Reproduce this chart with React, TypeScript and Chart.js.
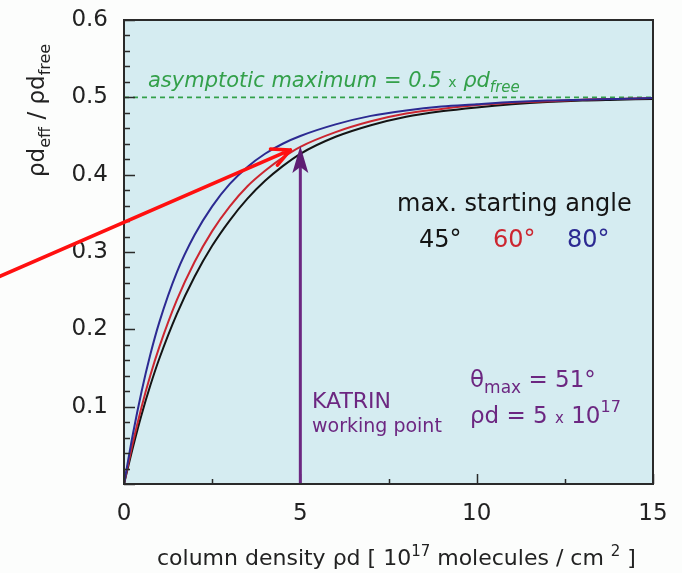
import React, { useEffect, useRef } from "react";
import { Chart, registerables } from "chart.js";

Chart.register(...registerables);

const FONT = "'DejaVu Sans', 'Liberation Sans', Arial, sans-serif";

// column density [10^17 molecules / cm^2]
const columnDensity = [0, 0.25, 0.5, 0.75, 1, 1.5, 2, 2.5, 3, 3.5, 4, 4.5, 5, 6, 7, 8, 9, 10, 11, 12, 13, 14, 15];
// rho d_eff / rho d_free for max. starting angle 45°, 60°, 80°
const ratio45 = [0, 0.047, 0.09, 0.128, 0.162, 0.22, 0.268, 0.308, 0.341, 0.369, 0.392, 0.411, 0.427, 0.449, 0.464, 0.475, 0.482, 0.487, 0.491, 0.494, 0.496, 0.497, 0.498];
const ratio60 = [0, 0.053, 0.1, 0.141, 0.177, 0.238, 0.287, 0.327, 0.359, 0.385, 0.405, 0.422, 0.436, 0.455, 0.469, 0.479, 0.485, 0.49, 0.493, 0.495, 0.497, 0.498, 0.499];
const ratio80 = [0, 0.064, 0.12, 0.168, 0.209, 0.274, 0.322, 0.359, 0.388, 0.41, 0.427, 0.44, 0.45, 0.465, 0.476, 0.483, 0.488, 0.491, 0.494, 0.496, 0.497, 0.498, 0.499];

const asymptoticMaximum = 0.5;
const xRange = [0, 15];
const yRange = [0, 0.6];
const xMajorTicks = [0, 5, 10, 15];
const xMinorTicks = [2.5, 7.5, 12.5];
const yMajorTicks = [0, 0.1, 0.2, 0.3, 0.4, 0.5, 0.6];
const yMinorTicks = [0.02, 0.04, 0.06, 0.08, 0.12, 0.14, 0.16, 0.18, 0.22, 0.24, 0.26, 0.28, 0.32, 0.34, 0.36, 0.38, 0.42, 0.44, 0.46, 0.48, 0.52, 0.54, 0.56, 0.58];

// KATRIN working point (rho d = 5, arrow up to the curve)
const katrinX = 5;
const katrinY = 0.437;
// red pointer arrow (data coordinates)
const pointerFrom = { x: -3.6, y: 0.267 };
const pointerTo = { x: 4.72, y: 0.432 };

const BLACK = "#141414";
const RED = "#cc2630";
const BLUE = "#2c2a92";
const GREEN = "#33a04a";
const PURPLE = "#6c2781";

type Seg = { t: string; size: number; dy?: number; italic?: boolean; color?: string };

function drawSegs(ctx: CanvasRenderingContext2D, x: number, y: number, segs: Seg[], color: string) {
  let cx = x;
  ctx.textAlign = "left";
  ctx.textBaseline = "alphabetic";
  for (const s of segs) {
    ctx.font = `${s.italic ? "italic " : ""}${s.size}px ${FONT}`;
    ctx.fillStyle = s.color || color;
    ctx.fillText(s.t, cx, y + (s.dy || 0));
    cx += ctx.measureText(s.t).width;
  }
}

const decor = {
  id: "decor",
  beforeDraw(chart: any) {
    const { ctx, chartArea: a, width, height } = chart;
    ctx.save();
    ctx.fillStyle = "#fcfdfc";
    ctx.fillRect(0, 0, width, height);
    ctx.fillStyle = "#d5ecf1";
    ctx.fillRect(a.left, a.top, a.right - a.left, a.bottom - a.top);
    ctx.restore();
  },
  afterDatasetsDraw(chart: any) {
    const { ctx, chartArea: a } = chart;
    const xs = chart.scales.x;
    const ys = chart.scales.y;
    ctx.save();
    // tick marks (inward)
    ctx.strokeStyle = "#2a2a2a";
    ctx.lineWidth = 1.5;
    ctx.beginPath();
    for (const v of yMajorTicks) {
      const py = Math.round(ys.getPixelForValue(v)) + 0.5;
      ctx.moveTo(a.left, py);
      ctx.lineTo(a.left + 11, py);
    }
    for (const v of yMinorTicks) {
      const py = Math.round(ys.getPixelForValue(v)) + 0.5;
      ctx.moveTo(a.left, py);
      ctx.lineTo(a.left + 6, py);
    }
    for (const v of xMajorTicks) {
      const px = Math.round(xs.getPixelForValue(v)) + 0.5;
      ctx.moveTo(px, a.bottom);
      ctx.lineTo(px, a.bottom - 10);
    }
    for (const v of xMinorTicks) {
      const px = Math.round(xs.getPixelForValue(v)) + 0.5;
      ctx.moveTo(px, a.bottom);
      ctx.lineTo(px, a.bottom - 5);
    }
    ctx.stroke();

    // purple KATRIN arrow
    const kx = xs.getPixelForValue(katrinX);
    const kTop = ys.getPixelForValue(katrinY);
    const kBottom = ys.getPixelForValue(0);
    ctx.strokeStyle = PURPLE;
    ctx.fillStyle = "#5e1d73";
    ctx.lineWidth = 3;
    ctx.beginPath();
    ctx.moveTo(kx, kBottom);
    ctx.lineTo(kx, kTop + 18);
    ctx.stroke();
    ctx.beginPath();
    ctx.moveTo(kx, kTop);
    ctx.lineTo(kx + 8, kTop + 27);
    ctx.lineTo(kx, kTop + 21);
    ctx.lineTo(kx - 8, kTop + 27);
    ctx.closePath();
    ctx.fill();

    // frame
    ctx.strokeStyle = "#2a2a2a";
    ctx.lineWidth = 2;
    ctx.strokeRect(a.left, a.top, a.right - a.left, a.bottom - a.top);

    // red pointer arrow
    const sx = xs.getPixelForValue(pointerFrom.x);
    const sy = ys.getPixelForValue(pointerFrom.y);
    const tx = xs.getPixelForValue(pointerTo.x);
    const ty = ys.getPixelForValue(pointerTo.y);
    const back = Math.atan2(sy - ty, sx - tx);
    const spread = (26 * Math.PI) / 180;
    const len = 20;
    ctx.strokeStyle = "#ff1010";
    ctx.lineWidth = 3.5;
    ctx.lineCap = "round";
    ctx.lineJoin = "round";
    ctx.beginPath();
    ctx.moveTo(sx, sy);
    ctx.lineTo(tx, ty);
    ctx.moveTo(tx + len * Math.cos(back + spread), ty + len * Math.sin(back + spread));
    ctx.lineTo(tx, ty);
    ctx.lineTo(tx + len * Math.cos(back - spread), ty + len * Math.sin(back - spread));
    ctx.stroke();
    ctx.restore();
  },
  afterDraw(chart: any) {
    const { ctx } = chart;
    ctx.save();
    // asymptote label
    drawSegs(ctx, 148, 87, [
      { t: "asymptotic maximum = 0.5 ", size: 21, italic: true },
      { t: "x", size: 14 },
      { t: " \u03c1d", size: 21, italic: true },
      { t: "free", size: 15, dy: 5, italic: true },
    ], GREEN);

    // legend-like text
    drawSegs(ctx, 397, 211, [{ t: "max. starting angle", size: 24 }], BLACK);
    drawSegs(ctx, 419, 247, [{ t: "45\u00b0", size: 24 }], BLACK);
    drawSegs(ctx, 493, 247, [{ t: "60\u00b0", size: 24 }], RED);
    drawSegs(ctx, 567, 247, [{ t: "80\u00b0", size: 24 }], BLUE);

    // KATRIN texts
    drawSegs(ctx, 312, 408, [{ t: "KATRIN", size: 22 }], PURPLE);
    drawSegs(ctx, 312, 432, [{ t: "working point", size: 19 }], PURPLE);
    drawSegs(ctx, 470, 387, [
      { t: "\u03b8", size: 23 },
      { t: "max", size: 17, dy: 6 },
      { t: " = 51\u00b0", size: 23 },
    ], PURPLE);
    drawSegs(ctx, 470, 423, [
      { t: "\u03c1d = 5 ", size: 23 },
      { t: "x", size: 15 },
      { t: " 10", size: 23 },
      { t: "17", size: 16, dy: -11 },
    ], PURPLE);

    // x axis title
    drawSegs(ctx, 157, 565, [
      { t: "column density \u03c1d [ 10", size: 22 },
      { t: "17", size: 15, dy: -9 },
      { t: " molecules / cm ", size: 22 },
      { t: "2", size: 15, dy: -9 },
      { t: " ]", size: 22 },
    ], "#222");

    // y axis title (rotated)
    ctx.translate(44, 177);
    ctx.rotate(-Math.PI / 2);
    drawSegs(ctx, 0, 0, [
      { t: "\u03c1d", size: 23 },
      { t: "eff", size: 16, dy: 6 },
      { t: " / \u03c1d", size: 23 },
      { t: "free", size: 16, dy: 6 },
    ], "#222");
    ctx.restore();
  },
};

export default function App() {
  const ref = useRef<HTMLCanvasElement | null>(null);

  useEffect(() => {
    document.body.style.margin = "0";
    const canvas = ref.current;
    if (!canvas) return;
    const toPoints = (ys: number[]) => columnDensity.map((x, i) => ({ x, y: ys[i] }));
    const curve = (label: string, data: number[], color: string) => ({
      label,
      data: toPoints(data),
      borderColor: color,
      borderWidth: 2,
      pointRadius: 0,
      fill: false,
      cubicInterpolationMode: "monotone" as const,
    });
    const chart = new Chart(canvas, {
      type: "line",
      data: {
        datasets: [
          curve("80°", ratio80, BLUE),
          curve("60°", ratio60, RED),
          curve("45°", ratio45, BLACK),
          {
            label: "asymptotic maximum",
            data: [
              { x: xRange[0], y: asymptoticMaximum },
              { x: xRange[1], y: asymptoticMaximum },
            ],
            borderColor: GREEN,
            borderWidth: 1.6,
            borderDash: [5, 4],
            pointRadius: 0,
            fill: false,
          },
        ],
      },
      options: {
        animation: false,
        responsive: false,
        devicePixelRatio: 1,
        layout: { padding: { top: 20, right: 29, left: 0, bottom: 0 } },
        plugins: { legend: { display: false }, tooltip: { enabled: false } },
        scales: {
          x: {
            type: "linear",
            min: xRange[0],
            max: xRange[1],
            grid: { display: false, drawTicks: false },
            border: { display: false },
            afterBuildTicks: (s: any) => {
              s.ticks = xMajorTicks.map((v) => ({ value: v }));
            },
            ticks: {
              padding: 16,
              color: "#222",
              font: { family: FONT, size: 23 },
              maxRotation: 0,
              callback: (v: any) => String(v),
            },
            afterFit: (s: any) => {
              s.height = 89;
              s.paddingLeft = 0;
              s.paddingRight = 0;
            },
          },
          y: {
            type: "linear",
            min: yRange[0],
            max: yRange[1],
            grid: { display: false, drawTicks: false },
            border: { display: false },
            afterBuildTicks: (s: any) => {
              s.ticks = yMajorTicks.map((v) => ({ value: v }));
            },
            ticks: {
              padding: 16,
              color: "#222",
              font: { family: FONT, size: 23 },
              callback: (v: any) => (Number(v) === 0 ? "" : Number(v).toFixed(1)),
            },
            afterFit: (s: any) => {
              s.width = 124;
              s.paddingTop = 0;
              s.paddingBottom = 0;
            },
          },
        },
      },
      plugins: [decor],
    });
    return () => chart.destroy();
  }, []);

  return <canvas ref={ref} width={682} height={573} style={{ display: "block" }} />;
}
